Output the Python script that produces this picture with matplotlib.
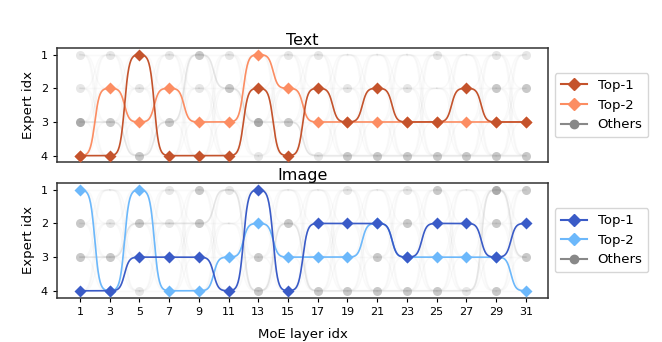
import numpy as np
import matplotlib.pyplot as plt

# layers shown on the x axis
layers = list(range(1, 32, 2))

# expert index picked per layer (1..4)
text_top1 = [4, 4, 1, 4, 4, 4, 2, 4, 2, 3, 2, 3, 3, 2, 3, 3]
text_top2 = [4, 2, 3, 2, 3, 3, 1, 2, 3, 3, 3, 3, 3, 3, 3, 3]
image_top1 = [4, 4, 3, 3, 3, 4, 1, 4, 2, 2, 2, 3, 2, 2, 3, 2]
image_top2 = [1, 4, 1, 4, 4, 3, 2, 3, 3, 3, 2, 3, 3, 3, 3, 4]

# shade of the remaining experts (rows = expert 1..4, 0 = not shown)
text_others = [
    [1, 1, 0, 1, 2, 1, 0, 1, 1, 0, 0, 0, 1, 0, 1, 1],
    [1, 0, 1, 0, 1, 2, 0, 0, 0, 1, 0, 1, 0, 0, 2, 2],
    [3, 2, 0, 2, 0, 0, 3, 2, 0, 0, 0, 0, 0, 0, 0, 0],
    [0, 0, 2, 0, 0, 0, 1, 0, 1, 2, 2, 2, 2, 2, 2, 2],
]
image_others = [
    [0, 0, 0, 1, 2, 1, 0, 0, 0, 1, 0, 1, 2, 0, 3, 2],
    [2, 1, 2, 1, 2, 0, 0, 2, 0, 0, 0, 2, 0, 0, 2, 0],
    [2, 2, 0, 0, 0, 0, 2, 0, 0, 0, 2, 0, 0, 0, 0, 2],
    [0, 0, 1, 0, 0, 0, 2, 0, 2, 2, 2, 2, 2, 1, 2, 0],
]

panels = [
    ("Text", text_top1, text_top2, text_others, "#c4532c", "#fc8d62"),
    ("Image", image_top1, image_top2, image_others, "#3a5bc7", "#6cb8fb"),
]
shade_alpha = {1: 0.2, 2: 0.45, 3: 0.7}


def smooth_path(xs, ys, n=60, k=6.5):
    px, py = [], []
    norm = np.tanh(k / 2)
    for i in range(len(xs) - 1):
        t = np.linspace(0, 1, n)
        s = 0.5 * (1 + np.tanh(k * (t - 0.5)) / norm)
        px.append(xs[i] + (xs[i + 1] - xs[i]) * t)
        py.append(ys[i] + (ys[i + 1] - ys[i]) * s)
    return np.concatenate(px), np.concatenate(py)


fig, axes = plt.subplots(2, 1, figsize=(6.62, 3.42), dpi=100, sharex=True)
fig.subplots_adjust(left=0.086, right=0.828, top=0.86, bottom=0.13, hspace=0.18)

for ax, (title, top1, top2, others, c1, c2) in zip(axes, panels):
    others = np.array(others)
    # faint background links between every pair of experts in neighbouring layers
    for i in range(len(layers) - 1):
        for a in range(1, 5):
            for b in range(1, 5):
                x, y = smooth_path(layers[i:i + 2], [a, b])
                ax.plot(x, y, color="#999999", alpha=0.06, lw=1, zorder=1)
    # the strongest "other" expert per layer
    strongest = [4 - int(np.argmax(others[::-1, j])) for j in range(len(layers))]
    x, y = smooth_path(layers, strongest)
    ax.plot(x, y, color="#999999", alpha=0.2, lw=1.2, zorder=1)
    for e in range(4):
        for j, lay in enumerate(layers):
            if others[e, j]:
                ax.plot(lay, e + 1, "o", color="#888888", ms=6.5, mec="none",
                        alpha=shade_alpha[others[e, j]], zorder=2)

    x, y = smooth_path(layers, top2)
    ax.plot(x, y, color=c2, lw=1.2, zorder=3)
    ax.plot(layers, top2, "D", color=c2, ms=6.5, mec="none", zorder=4)
    x, y = smooth_path(layers, top1)
    ax.plot(x, y, color=c1, lw=1.2, zorder=5)
    ax.plot(layers, top1, "D", color=c1, ms=6.5, mec="none", zorder=6)

    h1, = ax.plot([], [], "D-", color=c1, ms=6, lw=1.5)
    h2, = ax.plot([], [], "D-", color=c2, ms=6, lw=1.5)
    h3, = ax.plot([], [], "o-", color="#888888", ms=6, lw=1.5)
    ax.legend([h1, h2, h3], ["Top-1", "Top-2", "Others"], loc="center left",
              bbox_to_anchor=(1.0, 0.5), fontsize=9.5, handlelength=2,
              borderpad=0.45, labelspacing=0.5)

    ax.set_title(title, fontsize=11.5, pad=2)
    ax.set_ylabel("Expert idx", fontsize=9.5)
    ax.set_ylim(4.2, 0.8)
    ax.set_yticks([1, 2, 3, 4])
    ax.set_xlim(-0.55, 32.5)
    ax.set_xticks(layers)
    ax.tick_params(labelsize=8, length=3)
    for sp in ax.spines.values():
        sp.set_linewidth(1.1)
        sp.set_color("#333333")

axes[0].tick_params(labelbottom=False, bottom=False)
axes[1].set_xlabel("MoE layer idx", fontsize=9.5, labelpad=8)

fig.savefig("out.png", dpi=100)
